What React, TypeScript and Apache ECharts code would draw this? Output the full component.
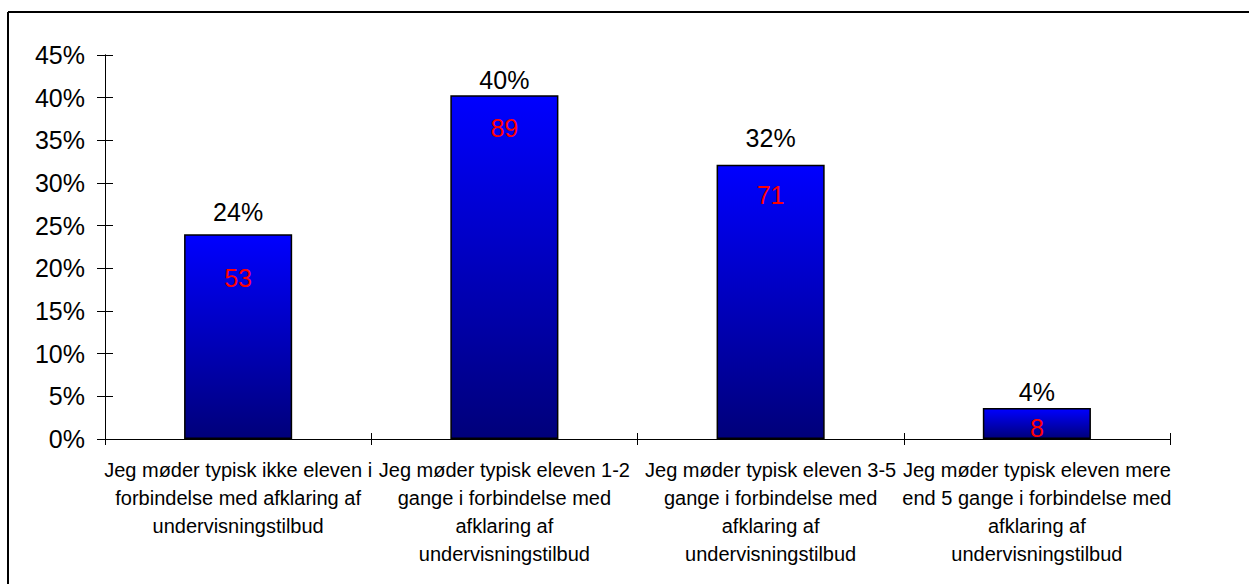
import React, { useEffect, useRef } from "react";
import * as echarts from "echarts";

const categories = [
  "Jeg møder typisk ikke eleven i\nforbindelse med afklaring af\nundervisningstilbud",
  "Jeg møder typisk eleven 1-2\ngange i forbindelse med\nafklaring af\nundervisningstilbud",
  "Jeg møder typisk eleven 3-5\ngange i forbindelse med\nafklaring af\nundervisningstilbud",
  "Jeg møder typisk eleven mere\nend 5 gange i forbindelse med\nafklaring af\nundervisningstilbud",
];
const percentages = [23.98, 40.27, 32.13, 3.62];
const counts = [53, 89, 71, 8];
const yTicks = { min: 0, max: 45, interval: 5 };

// label placement styles (not data)
const pctLabelDistance = [10, 3, 14, 4];
const countLabelDistance = [31, 20, 18, 7];

const FONT = 'Arial, "Liberation Sans", sans-serif';

export default function App() {
  const ref = useRef<HTMLDivElement>(null);
  useEffect(() => {
    if (!ref.current) return;
    const chart = echarts.init(ref.current, null, { renderer: "svg" });
    const axisLineStyle = { color: "#000", width: 1 };
    chart.setOption({
      animation: false,
      backgroundColor: "#fff",
      textStyle: { fontFamily: FONT },
      grid: { left: 105, right: 79, top: 55, bottom: 145, containLabel: false },
      graphic: [
        { type: "line", shape: { x1: 8, y1: 12, x2: 1249, y2: 12 }, style: { stroke: "#000", lineWidth: 2 } },
        { type: "line", shape: { x1: 8, y1: 12, x2: 8, y2: 584 }, style: { stroke: "#000", lineWidth: 2 } },
      ],
      xAxis: [
        {
          type: "category",
          data: categories,
          position: "bottom",
          boundaryGap: true,
          axisLine: { show: true, lineStyle: axisLineStyle },
          axisTick: { show: true, length: 6, inside: false, lineStyle: axisLineStyle },
          axisLabel: {
            interval: 0,
            color: "#000",
            fontSize: 20,
            lineHeight: 28,
            margin: 17,
            fontFamily: FONT,
          },
          splitLine: { show: false },
        },
        {
          type: "category",
          data: categories,
          position: "bottom",
          boundaryGap: true,
          axisLine: { show: true, lineStyle: axisLineStyle },
          axisTick: { show: true, length: 6, inside: true, lineStyle: axisLineStyle },
          axisLabel: { show: false },
          splitLine: { show: false },
        },
      ],
      yAxis: [
        {
          type: "value",
          min: yTicks.min,
          max: yTicks.max,
          interval: yTicks.interval,
          position: "left",
          axisLine: { show: true, lineStyle: axisLineStyle },
          axisTick: { show: true, length: 8, inside: false, lineStyle: axisLineStyle },
          axisLabel: { color: "#000", fontSize: 25, margin: 20, formatter: "{value}%", fontFamily: FONT },
          splitLine: { show: false },
        },
        {
          type: "value",
          min: yTicks.min,
          max: yTicks.max,
          interval: yTicks.interval,
          position: "left",
          axisLine: { show: true, lineStyle: axisLineStyle },
          axisTick: { show: true, length: 8, inside: true, lineStyle: axisLineStyle },
          axisLabel: { show: false },
          splitLine: { show: false },
        },
      ],
      series: [
        {
          type: "bar",
          xAxisIndex: 0,
          yAxisIndex: 0,
          barWidth: "40.6%",
          data: percentages.map((v, i) => ({
            value: v,
            label: { distance: pctLabelDistance[i] },
          })),
          itemStyle: {
            color: new echarts.graphic.LinearGradient(0, 0, 0, 1, [
              { offset: 0, color: "#0000FF" },
              { offset: 1, color: "#00007A" },
            ]),
            borderColor: "#000",
            borderWidth: 1.5,
          },
          label: {
            show: true,
            position: "top",
            color: "#000",
            fontSize: 25,
            fontFamily: FONT,
            formatter: (p: any) => Math.round(p.value) + "%",
          },
        },
        {
          type: "bar",
          xAxisIndex: 0,
          yAxisIndex: 0,
          barWidth: "40.6%",
          barGap: "-100%",
          silent: true,
          data: percentages.map((v, i) => ({
            value: v,
            label: { distance: countLabelDistance[i] },
          })),
          itemStyle: { color: "rgba(0,0,0,0)", borderWidth: 0 },
          label: {
            show: true,
            position: "insideTop",
            color: "#FF0000",
            fontSize: 25,
            fontFamily: FONT,
            formatter: (p: any) => String(counts[p.dataIndex]),
          },
        },
      ],
    });
    return () => chart.dispose();
  }, []);
  return (
    <div
      ref={ref}
      style={{ position: "fixed", left: 0, top: 0, width: 1249, height: 584, background: "#fff" }}
    />
  );
}
